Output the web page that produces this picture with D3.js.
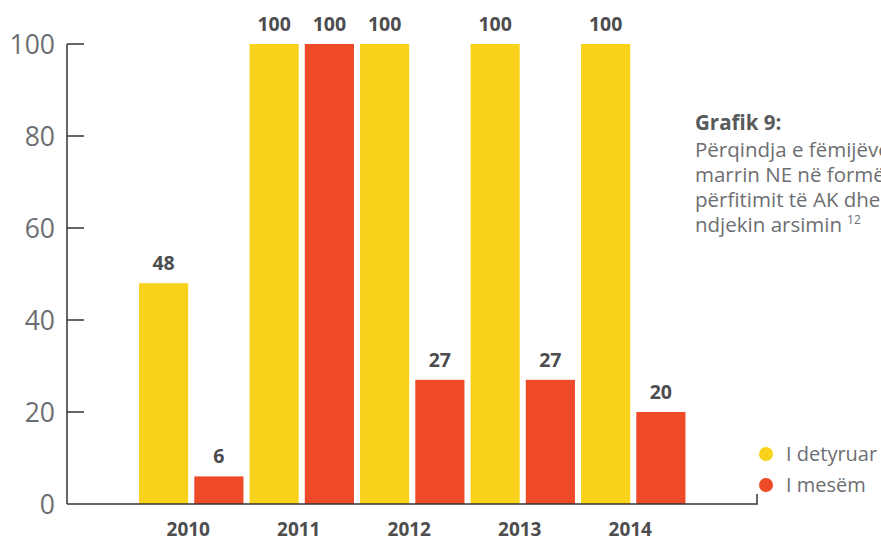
<!DOCTYPE html>
<html>
<head>
<meta charset="utf-8">
<script src="https://cdn.jsdelivr.net/npm/d3@7"></script>
<style>
  body { margin: 0; background: #fff; }
  svg { display: block; font-family: "Open Sans", "Noto Sans", sans-serif; }
</style>
</head>
<body>
<svg id="chart" width="881" height="542"></svg>
<script>
const svg = d3.select("#chart");

// data
const years = ["2010", "2011", "2012", "2013", "2014"];
const series = ["I detyruar", "I mesëm"];
const detyruar = [48, 100, 100, 100, 100];
const mesem = [6, 100, 27, 27, 20];
const yTicks = [0, 20, 40, 60, 80, 100];
const colors = ["#f8d21b", "#ef4a28"];
const noteTitle = "Grafik 9:";
const noteLines = ["Përqindja e fëmijëve që", "marrin NE në formë të", "përfitimit të AK dhe që", "ndjekin arsimin"];

const values = [detyruar, mesem];
const axisX = 67, axisEnd = 757;

const y = d3.scaleLinear().domain([0, 100]).range([504, 44]);
const x0 = d3.scaleBand().domain(years).range([136, 688.5]);
const x1 = d3.scaleBand().domain(series).range([0, x0.bandwidth()])
    .paddingInner(0.11).paddingOuter(0.055);

// y axis line + ticks
svg.append("line")
    .attr("x1", axisX).attr("x2", axisX)
    .attr("y1", y(100)).attr("y2", y(0))
    .attr("stroke", "#333").attr("stroke-width", 1.5);

svg.selectAll(".ytick")
    .data(yTicks.filter(d => d > 0))
    .enter().append("line")
    .attr("x1", axisX).attr("x2", axisX + 17)
    .attr("y1", d => y(d)).attr("y2", d => y(d))
    .attr("stroke", "#333").attr("stroke-width", 1.5);

svg.selectAll(".ylabel")
    .data(yTicks)
    .enter().append("text")
    .attr("x", 55)
    .attr("y", d => y(d))
    .attr("dy", "0.36em")
    .attr("text-anchor", "end")
    .attr("font-size", 26.5)
    .attr("fill", "#6d6e71")
    .text(d => d);

// bars
const groups = svg.selectAll(".grp")
    .data(years)
    .enter().append("g")
    .attr("transform", d => `translate(${x0(d)},0)`);

groups.selectAll("rect")
    .data((d, i) => series.map((s, k) => ({ s, k, v: values[k][i] })))
    .enter().append("rect")
    .attr("x", d => x1(d.s))
    .attr("width", x1.bandwidth())
    .attr("y", d => y(d.v))
    .attr("height", d => y(0) - y(d.v))
    .attr("fill", d => colors[d.k]);

groups.selectAll(".val")
    .data((d, i) => series.map((s, k) => ({ s, k, v: values[k][i] })))
    .enter().append("text")
    .attr("x", d => x1(d.s) + x1.bandwidth() / 2)
    .attr("y", d => y(d.v) - 13)
    .attr("text-anchor", "middle")
    .attr("font-size", 19.5)
    .attr("font-weight", "bold")
    .attr("fill", "#4d4d4f")
    .text(d => d.v);

// baseline
svg.append("path")
    .attr("d", `M${axisX},${y(0)}H${axisEnd}V${y(0) - 10}`)
    .attr("fill", "none")
    .attr("stroke", "#333").attr("stroke-width", 1.5);

// year labels
svg.selectAll(".year")
    .data(years)
    .enter().append("text")
    .attr("x", d => x0(d) + x0.bandwidth() / 2 - 3)
    .attr("y", 536)
    .attr("text-anchor", "middle")
    .attr("font-size", 19)
    .attr("font-weight", "bold")
    .attr("fill", "#4d4d4f")
    .text(d => d);

// legend
const legend = svg.selectAll(".leg")
    .data(series)
    .enter().append("g")
    .attr("transform", (d, i) => `translate(766,${454 + i * 31})`);
legend.append("circle").attr("r", 7).attr("fill", (d, i) => colors[i]);
legend.append("text")
    .attr("x", 20).attr("dy", "0.35em")
    .attr("font-size", 20)
    .attr("fill", "#6d6e71")
    .text(d => d);

// note (cut by the right edge, as in the source)
svg.append("text")
    .attr("x", 695).attr("y", 130)
    .attr("font-size", 20.5).attr("font-weight", "bold")
    .attr("fill", "#58595b")
    .text(noteTitle);
const note = svg.append("text")
    .attr("font-size", 20.5)
    .attr("fill", "#6d6e71");
noteLines.forEach((t, i) => {
    note.append("tspan").attr("x", 695).attr("y", 157 + i * 25).text(t);
});
note.append("tspan").attr("dx", 5).attr("dy", -8).attr("font-size", 12).text("12");
</script>
</body>
</html>
